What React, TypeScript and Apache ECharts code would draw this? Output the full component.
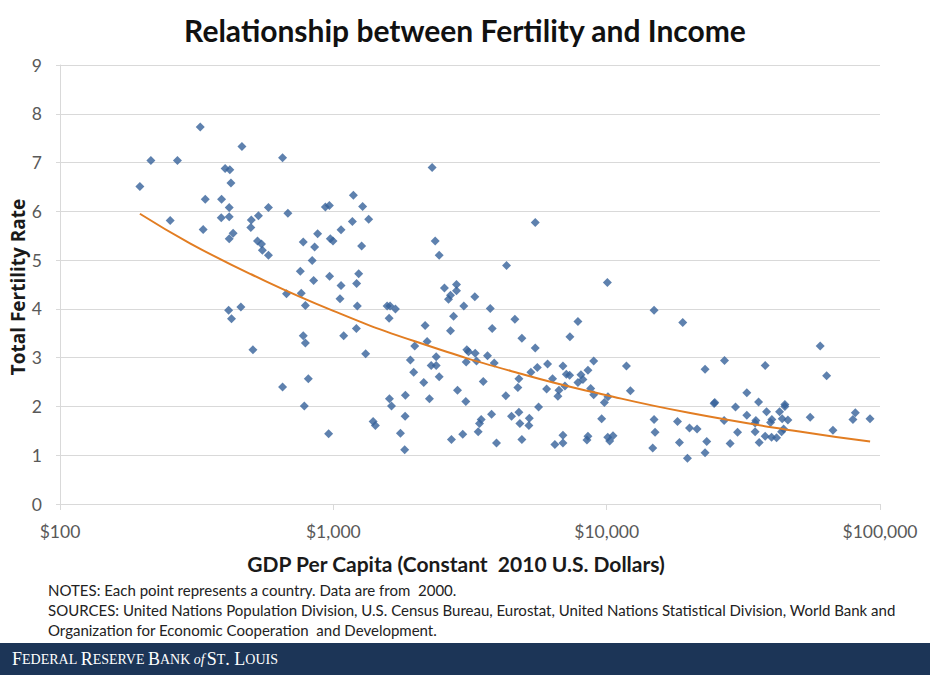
import React, { useEffect, useRef } from "react";
import * as echarts from "echarts";

// GDP per capita (constant 2010 US$) for each country
const gdp: number[] = [
  196, 215, 269, 326, 463, 652, 402, 418, 422, 340, 390, 416, 579, 682, 935, 967,
  253, 389, 416, 501, 532, 499, 334, 430, 416, 528, 546, 550, 579, 776, 876, 854,
  1067, 975, 997, 837, 757, 847, 969, 1067, 674, 763, 1058, 790, 414, 459, 424, 776,
  790, 1091, 508, 810, 652, 783, 961,
  1184, 1280, 1347, 1174, 1269, 2299, 5480, 2358, 2439, 1238, 1217, 1224, 4302, 2550, 2822, 2822,
  2683, 2638, 3293, 3001, 3750, 1573, 1613, 1687, 1600, 2753, 4614, 10060, 7851, 1214, 2167, 2683,
  3813, 4896, 7337, 1313, 1985, 2204, 5480, 1914, 2378, 3078, 3122, 3304, 3665, 3063, 3341, 3878,
  2280, 2378, 1968, 2439, 2142, 6079, 5574, 5280, 4773, 6918, 8964, 8541, 7118, 7318, 8052, 6341,
  8188, 7851, 7036, 3536, 4732, 6029, 6688, 6631, 8740, 8964, 9808, 10110, 2846, 4276, 1835, 2247,
  3052, 1604, 1632, 5635, 1831, 1398, 1425, 3792, 4487, 4773, 5211, 4813, 5193, 3475, 3426, 3388,
  9587, 1760, 1824, 2705, 2975, 3954, 4896, 6918, 6918, 6465, 8541, 8469,
  14910, 18980, 60420, 63800, 11810, 26990, 22910, 38010, 12210, 32570, 24860, 24720, 29610, 35950,
  44870, 44870, 14910, 18160, 32570, 38460, 42920, 35140, 34930, 40220, 39780, 43870, 46030, 26900,
  55540, 81210, 79630, 91920, 10090, 10260, 10550, 15030, 20090, 21420, 44400, 34930, 30120, 43650,
  67270, 38010, 40120, 41840, 14740, 18460, 23240, 28290, 36140, 19750, 22910,
];

// Total fertility rate for each country (same order)
const tfr: number[] = [
  6.51, 7.04, 7.04, 7.73, 7.33, 7.10, 6.88, 6.85, 6.58, 6.25, 6.25, 6.08, 6.08, 5.96, 6.09, 6.12,
  5.81, 5.87, 5.89, 5.82, 5.91, 5.67, 5.63, 5.55, 5.44, 5.39, 5.33, 5.20, 5.10, 5.37, 5.54, 5.27,
  5.62, 5.44, 5.39, 4.99, 4.77, 4.58, 4.67, 4.48, 4.31, 4.32, 4.21, 4.07, 3.97, 4.04, 3.80, 3.45,
  3.30, 3.45, 3.16, 2.57, 2.40, 2.01, 1.44,
  6.33, 6.10, 5.84, 5.79, 5.29, 6.90, 5.77, 5.39, 5.10, 4.72, 4.52, 4.06, 4.89, 4.43, 4.50, 4.37,
  4.28, 4.20, 4.25, 4.06, 4.01, 4.06, 4.06, 4.00, 3.81, 3.85, 3.79, 4.54, 3.74, 3.60, 3.66, 3.55,
  3.60, 3.40, 3.43, 3.08, 3.24, 3.33, 3.20, 2.95, 3.02, 3.16, 3.12, 3.09, 3.04, 2.91, 2.93, 2.89,
  2.84, 2.84, 2.70, 2.61, 2.49, 2.87, 2.80, 2.70, 2.57, 2.83, 2.93, 2.74, 2.66, 2.64, 2.65, 2.57,
  2.55, 2.49, 2.42, 2.51, 2.39, 2.36, 2.33, 2.21, 2.37, 2.24, 2.08, 2.20, 2.33, 2.22, 2.23, 2.16,
  2.10, 2.16, 2.01, 1.99, 1.80, 1.69, 1.61, 1.84, 1.80, 1.88, 1.76, 1.65, 1.61, 1.73, 1.65, 1.48,
  1.75, 1.45, 1.11, 1.32, 1.43, 1.25, 1.32, 1.41, 1.25, 1.22, 1.39, 1.31,
  3.97, 3.72, 3.24, 2.63, 2.83, 2.94, 2.76, 2.84, 2.32, 2.28, 2.08, 2.06, 1.99, 2.09,
  2.04, 2.00, 1.73, 1.69, 1.82, 1.89, 1.89, 1.71, 1.66, 1.73, 1.67, 1.75, 1.72, 1.71,
  1.78, 1.87, 1.73, 1.75, 1.37, 1.29, 1.40, 1.47, 1.56, 1.54, 1.54, 1.48, 1.47, 1.48,
  1.51, 1.39, 1.37, 1.36, 1.15, 1.26, 1.28, 1.24, 1.26, 0.94, 1.05,
];

// Trend line
const trendGdp: number[] = [196, 300, 500, 1000, 2000, 5000, 10000, 20000, 50000, 92000];
const trendTfr: number[] = [5.95, 5.34, 4.71, 3.96, 3.33, 2.65, 2.23, 1.87, 1.49, 1.28];

const xTickLabels: Record<number, string> = {
  100: "$100",
  1000: "$1,000",
  10000: "$10,000",
  100000: "$100,000",
};

const title = "Relationship between Fertility and Income";
const xTitle = "GDP Per Capita (Constant  2010 U.S. Dollars)";
const yTitle = "Total Fertility Rate";
const notes = "NOTES: Each point represents a country. Data are from  2000.";
const sources1 =
  "SOURCES: United Nations Population Division, U.S. Census Bureau, Eurostat, United Nations Statistical Division, World Bank and";
const sources2 = "Organization for Economic Cooperation  and Development.";

export default function App() {
  const ref = useRef<HTMLDivElement>(null);
  useEffect(() => {
    document.body.style.margin = "0";
    if (!ref.current) return;
    const chart = echarts.init(ref.current, null, { renderer: "svg" });
    const pts = gdp.map((g, i) => [g, tfr[i]]);
    const trend = trendGdp.map((g, i) => [g, trendTfr[i]]);
    const labelColor = "#595959";
    const font = "Lato, 'Open Sans', sans-serif";
    chart.setOption({
      animation: false,
      backgroundColor: "#ffffff",
      title: {
        text: title,
        left: "center",
        top: 10,
        textStyle: { fontFamily: font, fontSize: 30, fontWeight: "bold", color: "#111" },
      },
      grid: {
        left: 60,
        right: 50,
        top: 65,
        bottom: 171,
        containLabel: false,
        outerBoundsMode: "none",
      },
      xAxis: {
        type: "log",
        logBase: 10,
        min: 100,
        max: 100000,
        axisLine: { show: true, lineStyle: { color: "#d9d9d9", width: 1 } },
        axisTick: { show: true, length: 6, lineStyle: { color: "#d9d9d9" } },
        splitLine: { show: false },
        minorTick: { show: false },
        axisLabel: {
          margin: 18,
          fontFamily: font,
          fontSize: 17.5,
          color: labelColor,
          formatter: (v: number) => xTickLabels[Math.round(v)] ?? "$" + Math.round(v).toLocaleString("en-US"),
        },
      },
      yAxis: {
        type: "value",
        min: 0,
        max: 9,
        interval: 1,
        axisLine: { show: true, lineStyle: { color: "#d9d9d9", width: 1 } },
        axisTick: { show: true, length: 4, lineStyle: { color: "#d9d9d9" } },
        splitLine: { show: true, lineStyle: { color: "#d9d9d9", width: 1 } },
        axisLabel: { margin: 18, fontFamily: font, fontSize: 17.5, color: labelColor },
      },
      series: [
        {
          type: "scatter",
          data: pts,
          symbol: "diamond",
          symbolSize: 9,
          itemStyle: { color: "#36619a" },
          z: 2,
        },
        {
          type: "line",
          data: trend,
          smooth: true,
          showSymbol: false,
          symbol: "none",
          lineStyle: { color: "#E27D22", width: 2 },
          z: 3,
        },
      ],
      graphic: [
        {
          type: "text",
          x: 18,
          y: 287,
          rotation: Math.PI / 2,
          style: {
            text: yTitle,
            fontFamily: "'Open Sans', Lato, sans-serif",
            fontSize: 19,
            fontWeight: "bold",
            fill: "#1a1a1a",
            textAlign: "center",
            textVerticalAlign: "middle",
          },
        },
        {
          type: "text",
          x: 456,
          y: 563,
          style: {
            text: xTitle,
            fontFamily: font,
            fontSize: 21,
            fontWeight: "bold",
            fill: "#1a1a1a",
            textAlign: "center",
            textVerticalAlign: "middle",
          },
        },
        {
          type: "text",
          left: 48,
          top: 582,
          style: { text: notes, fontFamily: font, fontSize: 15, fill: "#222" },
        },
        {
          type: "text",
          left: 48,
          top: 602,
          style: { text: sources1, fontFamily: font, fontSize: 15, fill: "#222" },
        },
        {
          type: "text",
          left: 48,
          top: 622,
          style: { text: sources2, fontFamily: font, fontSize: 15, fill: "#222" },
        },
        {
          type: "rect",
          shape: { x: 0, y: 643, width: 930, height: 32 },
          style: { fill: "#1c3557" },
        },
        {
          type: "text",
          x: 12,
          y: 659,
          style: {
            text: "{b|F}{s|EDERAL }{b|R}{s|ESERVE }{b|B}{s|ANK }{i|of}{b|S}{s|T}{b|. L}{s|OUIS}",
            fill: "#ffffff",
            verticalAlign: "middle",
            rich: {
              b: { fontFamily: "'Liberation Serif', serif", fontSize: 18, fill: "#ffffff" },
              s: { fontFamily: "'Liberation Serif', serif", fontSize: 14, fill: "#ffffff" },
              i: { fontFamily: "'Liberation Serif', serif", fontSize: 14, fontStyle: "italic", fill: "#ffffff", padding: [0, 2, 0, 0] },
            },
          },
        },
      ],
    });
    return () => chart.dispose();
  }, []);
  return <div ref={ref} style={{ width: 930, height: 675 }} />;
}
